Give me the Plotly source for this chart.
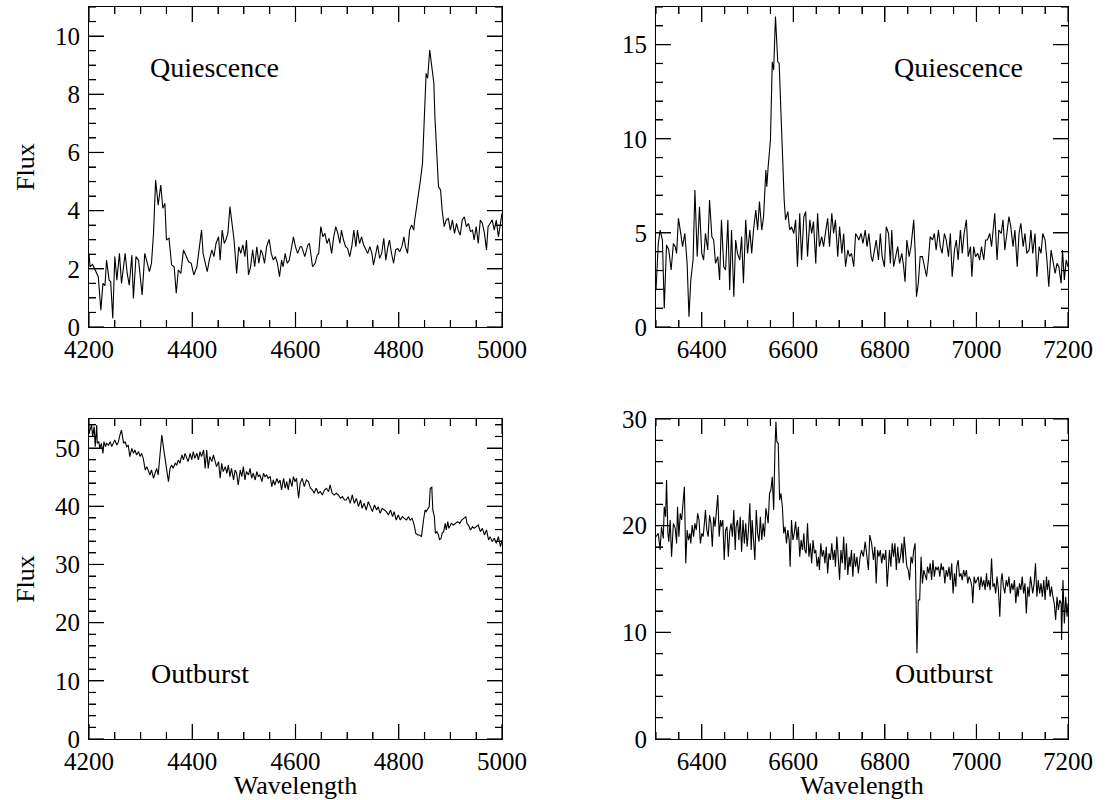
import plotly.graph_objects as go

# ---------------- data ----------------
tl_wave = [4200, 4202, 4207, 4211, 4218, 4223, 4227, 4231, 4234, 4239,
           4242, 4246, 4250, 4254, 4259, 4263, 4267, 4270, 4274, 4278,
           4283, 4286, 4291, 4296, 4303, 4308, 4313, 4317, 4321, 4325,
           4329, 4334, 4339, 4343, 4347, 4350, 4355, 4360, 4365, 4369,
           4373, 4378, 4383, 4388, 4393, 4398, 4403, 4409, 4414, 4418,
           4421, 4425, 4429, 4433, 4438, 4442, 4446, 4451, 4454, 4458,
           4462, 4465, 4469, 4473, 4477, 4481, 4486, 4490, 4494, 4498,
           4502, 4505, 4509, 4513, 4517, 4521, 4525, 4529, 4533, 4536,
           4540, 4544, 4549, 4553, 4557, 4561, 4565, 4569, 4573, 4576,
           4580, 4584, 4588, 4592, 4596, 4600, 4604, 4609, 4612, 4618,
           4624, 4627, 4633, 4638, 4642, 4645, 4649, 4653, 4657, 4661,
           4665, 4670, 4674, 4678, 4682, 4686, 4689, 4693, 4697, 4701,
           4705, 4709, 4713, 4717, 4720, 4724, 4728, 4732, 4736, 4740,
           4744, 4748, 4751, 4755, 4759, 4763, 4767, 4771, 4775, 4779,
           4782, 4786, 4790, 4794, 4798, 4802, 4806, 4810, 4813, 4817,
           4821, 4825, 4829, 4831, 4835, 4839, 4842, 4846, 4848, 4851,
           4853, 4856, 4860, 4864, 4868, 4870, 4874, 4877, 4881, 4884,
           4888, 4892, 4896, 4900, 4904, 4908, 4912, 4915, 4919, 4923,
           4927, 4931, 4935, 4939, 4943, 4946, 4950, 4954, 4958, 4962,
           4966, 4970, 4973, 4977, 4981, 4985, 4989, 4993, 4997, 5000]
tl_flux = [2.53, 2.07, 2.15, 2.00, 1.73, 0.58, 1.50, 1.42, 2.30, 1.61,
           1.56, 0.30, 2.42, 1.61, 2.53, 1.50, 2.07, 2.53, 1.84, 1.44,
           2.47, 0.98, 2.42, 2.30, 1.10, 2.53, 2.19, 1.90, 2.19, 3.22,
           5.05, 4.19, 4.88, 4.08, 4.25, 2.99, 3.05, 2.13, 2.07, 1.16,
           1.96, 1.84, 2.65, 2.42, 2.24, 2.19, 1.79, 2.07, 2.76, 3.33,
           2.53, 2.19, 1.90, 2.30, 2.65, 2.42, 2.87, 3.10, 2.30, 3.33,
           2.87, 2.99, 3.22, 4.14, 3.45, 2.99, 1.84, 2.76, 2.53, 2.82,
           2.42, 2.99, 1.79, 2.07, 2.65, 2.07, 2.76, 2.19, 2.65, 2.53,
           2.19, 2.76, 3.01, 2.53, 2.30, 2.42, 2.19, 1.73, 2.30, 2.07,
           2.53, 2.19, 2.30, 2.76, 3.10, 2.76, 2.53, 2.76, 2.76, 2.42,
           2.82, 2.87, 2.07, 2.19, 2.47, 2.53, 3.45, 3.10, 3.22, 2.87,
           3.05, 2.53, 3.10, 3.45, 3.22, 2.87, 3.33, 2.99, 2.76, 2.70,
           2.42, 2.76, 3.33, 2.76, 3.33, 2.87, 3.10, 2.82, 2.70, 2.53,
           2.76, 2.53, 2.13, 2.53, 2.82, 2.36, 2.53, 3.05, 2.30, 2.76,
           2.99, 2.53, 2.19, 2.65, 2.70, 2.59, 2.76, 3.10, 2.76, 2.53,
           3.33, 3.51, 3.33, 3.68, 4.14, 4.59, 5.05, 5.63, 6.66, 7.80,
           8.72, 8.55, 9.52, 8.95, 8.38, 7.23, 5.97, 4.82, 4.71, 4.02,
           3.45, 3.68, 3.73, 3.33, 3.68, 3.22, 3.56, 3.33, 3.16, 3.68,
           3.79, 3.45, 3.56, 3.28, 3.33, 2.99, 3.45, 2.87, 3.68, 3.56,
           3.22, 2.65, 3.45, 3.56, 3.68, 3.33, 3.68, 3.10, 3.68, 3.91]

tr_wave = [6300, 6305, 6309, 6314, 6318, 6323, 6328, 6333, 6338, 6342,
           6345, 6349, 6354, 6358, 6363, 6368, 6372, 6376, 6381, 6385,
           6390, 6395, 6400, 6404, 6408, 6413, 6417, 6422, 6426, 6430,
           6435, 6439, 6443, 6448, 6452, 6457, 6461, 6465, 6470, 6474,
           6478, 6483, 6487, 6491, 6496, 6500, 6505, 6509, 6513, 6518,
           6522, 6526, 6531, 6535, 6540, 6542, 6545, 6550, 6554, 6557,
           6561, 6566, 6569, 6572, 6574, 6577, 6580, 6583, 6588, 6592,
           6596, 6601, 6605, 6609, 6614, 6618, 6623, 6627, 6631, 6636,
           6640, 6644, 6649, 6653, 6657, 6662, 6666, 6671, 6675, 6679,
           6684, 6688, 6692, 6697, 6701, 6706, 6710, 6714, 6719, 6723,
           6727, 6732, 6736, 6740, 6743, 6748, 6752, 6757, 6761, 6765,
           6770, 6773, 6777, 6781, 6786, 6790, 6794, 6799, 6803, 6808,
           6812, 6815, 6819, 6824, 6828, 6832, 6837, 6841, 6844, 6848,
           6853, 6857, 6863, 6866, 6869, 6873, 6877, 6882, 6886, 6891,
           6895, 6899, 6904, 6908, 6912, 6917, 6921, 6925, 6930, 6934,
           6939, 6943, 6947, 6952, 6956, 6960, 6965, 6969, 6973, 6978,
           6982, 6987, 6990, 6994, 6998, 7003, 7007, 7011, 7016, 7020,
           7024, 7029, 7033, 7038, 7040, 7045, 7049, 7054, 7058, 7062,
           7067, 7071, 7075, 7080, 7084, 7089, 7093, 7097, 7102, 7106,
           7110, 7115, 7119, 7123, 7128, 7132, 7137, 7141, 7145, 7150,
           7154, 7158, 7163, 7167, 7172, 7176, 7180, 7185, 7188, 7192,
           7196, 7200]
tr_flux = [1.96, 4.44, 5.15, 4.62, 0.99, 4.36, 4.09, 3.03, 4.44, 4.27,
           3.91, 5.77, 4.97, 4.27, 4.97, 3.38, 0.55, 2.50, 3.56, 7.28,
           3.74, 6.39, 3.91, 3.56, 4.97, 4.09, 6.75, 4.80, 4.62, 3.38,
           3.74, 2.50, 5.69, 3.20, 3.03, 5.69, 1.96, 5.15, 1.61, 4.62,
           3.91, 3.56, 4.80, 2.32, 5.69, 3.91, 5.15, 3.91, 5.15, 6.21,
           5.15, 6.66, 5.15, 5.86, 8.34, 7.45, 8.52, 9.93, 14.09, 13.65,
           16.49, 14.09, 14.01, 12.06, 10.11, 8.52, 6.75, 5.69, 6.13, 5.15,
           5.33, 4.97, 5.69, 3.20, 6.04, 3.56, 5.86, 6.13, 3.74, 5.69,
           4.97, 5.60, 3.38, 6.04, 4.27, 4.80, 4.27, 5.15, 5.77, 4.27,
           6.04, 4.97, 5.69, 3.74, 5.33, 3.91, 4.97, 3.20, 4.09, 3.74,
           3.91, 3.20, 4.97, 4.80, 4.62, 4.97, 4.44, 5.15, 4.27, 4.97,
           3.74, 3.47, 4.09, 4.62, 3.56, 4.97, 3.74, 3.20, 5.33, 4.97,
           3.38, 5.15, 3.20, 3.91, 4.27, 3.38, 3.91, 3.20, 2.41, 4.62,
           3.74, 4.27, 5.69, 4.09, 1.61, 2.32, 3.74, 3.74, 3.20, 2.67,
           3.56, 4.80, 4.62, 4.97, 4.09, 5.15, 4.27, 3.91, 4.97, 4.62,
           3.74, 4.97, 2.67, 4.09, 4.62, 3.56, 5.15, 3.91, 4.97, 5.69,
           3.74, 4.27, 2.67, 4.27, 3.74, 3.91, 3.56, 4.27, 3.56, 4.62,
           4.62, 4.97, 4.27, 5.33, 6.04, 3.56, 5.15, 4.97, 5.69, 4.09,
           4.97, 5.86, 5.33, 4.27, 5.15, 3.20, 4.97, 5.51, 4.27, 4.97,
           3.91, 4.09, 5.15, 3.91, 4.97, 2.67, 4.27, 3.91, 4.97, 4.62,
           3.56, 2.14, 4.09, 3.56, 2.85, 3.38, 3.20, 2.32, 4.09, 2.50,
           3.56, 3.20]

bl_wave = [4200, 4205, 4207, 4210, 4212, 4215, 4216, 4219, 4221, 4224,
           4227, 4229, 4232, 4234, 4238, 4241, 4244, 4247, 4250, 4254,
           4257, 4260, 4263, 4267, 4270, 4273, 4276, 4279, 4283, 4286,
           4289, 4292, 4296, 4299, 4302, 4305, 4309, 4312, 4315, 4318,
           4321, 4325, 4328, 4331, 4334, 4338, 4341, 4344, 4347, 4351,
           4354, 4357, 4360, 4363, 4367, 4370, 4373, 4376, 4380, 4383,
           4386, 4389, 4392, 4396, 4399, 4402, 4405, 4409, 4412, 4415,
           4418, 4422, 4425, 4428, 4431, 4434, 4438, 4441, 4444, 4447,
           4451, 4454, 4457, 4460, 4464, 4467, 4470, 4473, 4476, 4480,
           4483, 4486, 4489, 4493, 4496, 4499, 4502, 4505, 4509, 4512,
           4515, 4518, 4522, 4525, 4528, 4531, 4535, 4538, 4541, 4544,
           4547, 4551, 4554, 4557, 4560, 4564, 4567, 4570, 4573, 4577,
           4580, 4583, 4586, 4589, 4593, 4596, 4599, 4602, 4606, 4609,
           4613, 4617, 4621, 4625, 4629, 4633, 4636, 4640, 4644, 4648,
           4652, 4656, 4660, 4664, 4667, 4671, 4675, 4679, 4683, 4687,
           4691, 4695, 4698, 4702, 4706, 4710, 4714, 4718, 4722, 4726,
           4729, 4733, 4737, 4741, 4745, 4749, 4753, 4757, 4760, 4764,
           4768, 4772, 4776, 4780, 4784, 4788, 4791, 4795, 4799, 4803,
           4807, 4811, 4815, 4819, 4822, 4826, 4830, 4833, 4837, 4840,
           4844, 4848, 4851, 4853, 4856, 4859, 4861, 4864, 4866, 4869,
           4871, 4874, 4877, 4879, 4882, 4884, 4887, 4890, 4892, 4895,
           4897, 4900, 4902, 4906, 4910, 4914, 4918, 4922, 4926, 4930,
           4932, 4935, 4939, 4943, 4946, 4950, 4954, 4958, 4962, 4966,
           4970, 4974, 4977, 4981, 4985, 4989, 4993, 4997, 5000]
bl_flux = [52.54, 53.97, 51.97, 53.69, 50.25, 53.97, 50.82, 51.11, 49.96, 50.82,
           49.10, 51.11, 50.25, 50.82, 50.53, 51.11, 50.25, 50.82, 51.39, 50.53,
           51.11, 52.25, 53.11, 50.82, 51.11, 50.25, 50.53, 48.53, 49.96, 49.10,
           49.67, 48.82, 49.39, 48.53, 49.10, 48.24, 46.24, 46.81, 45.95, 45.38,
           46.24, 44.81, 45.67, 46.52, 45.38, 49.10, 52.25, 50.25, 47.96, 45.95,
           44.23, 46.52, 47.10, 46.52, 47.38, 47.10, 47.96, 47.38, 48.82, 47.96,
           49.10, 48.53, 47.67, 49.10, 47.96, 49.39, 48.24, 49.10, 47.96, 49.39,
           48.53, 49.67, 46.52, 49.67, 46.52, 48.53, 47.67, 48.82, 47.96, 46.81,
           47.67, 44.81, 47.38, 45.95, 46.81, 45.67, 47.10, 45.09, 46.52, 44.52,
           46.24, 45.67, 43.66, 46.24, 45.09, 46.81, 44.52, 45.95, 45.38, 46.52,
           44.81, 45.67, 44.52, 45.95, 45.09, 45.38, 44.23, 45.67, 45.09, 45.38,
           44.81, 45.09, 43.37, 44.52, 43.66, 44.81, 43.95, 44.52, 42.80, 44.81,
           43.09, 44.23, 42.80, 44.81, 43.37, 45.09, 44.23, 44.81, 41.37, 43.95,
           44.81, 43.37, 44.52, 44.23, 43.09, 42.80, 42.23, 43.09, 42.23, 42.51,
           41.94, 42.80, 43.09, 42.51, 43.66, 42.23, 41.94, 42.23, 41.94, 41.37,
           41.65, 41.08, 41.08, 41.65, 40.51, 41.94, 40.51, 41.37, 39.94, 41.08,
           39.65, 40.51, 39.36, 40.79, 39.94, 39.08, 40.22, 39.36, 39.94, 38.79,
           39.65, 39.36, 39.08, 38.50, 39.36, 38.22, 39.08, 37.64, 38.50, 37.64,
           38.22, 37.93, 37.64, 38.22, 37.64, 37.93, 36.78, 35.35, 35.07, 35.07,
           34.78, 37.64, 39.36, 39.08, 39.65, 39.94, 43.09, 43.26, 39.36, 38.22,
           35.35, 35.64, 35.07, 34.21, 34.49, 35.35, 35.64, 37.07, 35.93, 37.36,
           36.21, 36.78, 37.07, 36.78, 37.07, 37.36, 37.07, 37.64, 37.93, 38.22,
           37.07, 36.78, 35.93, 36.50, 36.21, 36.50, 36.78, 35.64, 36.21, 35.07,
           35.93, 34.21, 34.78, 33.92, 34.49, 33.63, 34.78, 33.06, 34.21]

br_wave = [6300, 6305, 6309, 6312, 6316, 6318, 6321, 6323, 6326, 6328,
           6331, 6334, 6338, 6342, 6345, 6347, 6350, 6353, 6356, 6359,
           6362, 6365, 6368, 6371, 6374, 6376, 6379, 6382, 6385, 6388,
           6391, 6394, 6397, 6400, 6403, 6406, 6408, 6411, 6414, 6417,
           6420, 6423, 6426, 6429, 6432, 6435, 6438, 6441, 6443, 6446,
           6449, 6452, 6455, 6458, 6461, 6464, 6467, 6470, 6473, 6475,
           6478, 6481, 6484, 6487, 6490, 6493, 6496, 6499, 6502, 6505,
           6508, 6510, 6513, 6516, 6519, 6522, 6525, 6528, 6531, 6534,
           6537, 6540, 6542, 6545, 6548, 6551, 6554, 6557, 6560, 6562,
           6564, 6567, 6570, 6573, 6576, 6579, 6582, 6585, 6588, 6591,
           6593, 6596, 6599, 6602, 6605, 6608, 6611, 6614, 6617, 6620,
           6623, 6625, 6628, 6631, 6634, 6637, 6640, 6643, 6646, 6649,
           6652, 6655, 6657, 6660, 6663, 6666, 6669, 6672, 6675, 6678,
           6681, 6684, 6687, 6690, 6692, 6695, 6698, 6701, 6704, 6707,
           6710, 6713, 6716, 6719, 6722, 6724, 6727, 6730, 6733, 6736,
           6739, 6742, 6746, 6749, 6753, 6757, 6760, 6764, 6767, 6771,
           6775, 6778, 6781, 6784, 6787, 6790, 6793, 6796, 6799, 6802,
           6805, 6808, 6810, 6813, 6816, 6819, 6822, 6825, 6828, 6831,
           6834, 6837, 6840, 6842, 6845, 6848, 6851, 6854, 6857, 6860,
           6863, 6866, 6868, 6870, 6873, 6876, 6879, 6882, 6885, 6888,
           6891, 6893, 6896, 6899, 6902, 6905, 6908, 6911, 6914, 6917,
           6920, 6923, 6925, 6928, 6931, 6934, 6937, 6940, 6943, 6946,
           6949, 6952, 6955, 6957, 6960, 6963, 6966, 6969, 6972, 6975,
           6978, 6981, 6984, 6987, 6990, 6992, 6995, 6998, 7001, 7004,
           7007, 7010, 7013, 7016, 7019, 7022, 7024, 7027, 7030, 7033,
           7036, 7039, 7042, 7045, 7048, 7051, 7054, 7056, 7059, 7062,
           7065, 7068, 7071, 7074, 7077, 7080, 7083, 7086, 7089, 7091,
           7094, 7097, 7100, 7103, 7106, 7109, 7112, 7115, 7118, 7121,
           7123, 7126, 7129, 7132, 7135, 7138, 7141, 7144, 7147, 7150,
           7153, 7155, 7158, 7161, 7164, 7167, 7170, 7173, 7176, 7179,
           7182, 7185, 7186, 7189, 7192, 7195, 7198, 7200]
br_flux = [18.97, 19.28, 17.72, 19.90, 18.81, 21.78, 20.84, 24.28, 19.28, 18.50,
           20.53, 17.09, 20.22, 19.75, 18.34, 21.78, 18.97, 21.15, 20.53, 21.78,
           23.65, 16.47, 19.59, 18.65, 19.28, 18.34, 20.06, 18.97, 20.22, 19.59,
           21.15, 20.53, 18.34, 19.28, 18.97, 20.37, 21.47, 19.59, 18.97, 21.00,
           20.22, 18.03, 20.84, 19.90, 21.78, 22.87, 18.97, 20.53, 19.90, 20.53,
           16.78, 19.59, 19.90, 17.09, 19.43, 20.22, 18.97, 21.47, 17.72, 19.90,
           20.53, 18.65, 20.84, 17.56, 20.53, 18.34, 20.22, 18.03, 19.59, 22.09,
           17.72, 20.53, 18.65, 16.78, 21.47, 19.28, 18.50, 20.84, 18.65, 20.22,
           18.97, 21.62, 21.15, 20.22, 23.03, 23.34, 24.59, 21.47, 27.40, 29.75,
           27.87, 27.72, 22.40, 23.03, 21.78, 19.28, 19.90, 18.34, 19.59, 18.65,
           16.15, 20.53, 18.65, 19.28, 20.37, 18.65, 19.90, 17.09, 18.65, 17.72,
           19.28, 17.72, 17.40, 20.22, 17.09, 18.34, 16.47, 18.65, 17.40, 17.72,
           16.15, 17.09, 15.84, 18.34, 17.09, 17.72, 16.47, 18.03, 15.53, 17.40,
           16.78, 18.34, 16.78, 17.72, 16.15, 18.97, 17.09, 14.90, 17.72, 16.47,
           18.97, 15.84, 18.34, 15.37, 17.09, 16.15, 17.72, 15.22, 17.40, 16.15,
           17.09, 15.53, 17.09, 17.72, 17.09, 18.50, 17.40, 15.84, 19.12, 18.34,
           16.78, 18.03, 14.59, 17.72, 17.09, 17.72, 16.47, 17.40, 16.78, 17.72,
           14.28, 17.09, 17.72, 16.15, 18.34, 17.09, 18.34, 15.84, 18.03, 16.47,
           17.09, 18.34, 16.47, 18.97, 17.40, 16.15, 15.84, 14.90, 17.09, 16.47,
           17.72, 18.34, 13.34, 8.03, 13.03, 13.03, 17.09, 14.59, 15.84, 15.22,
           14.90, 16.15, 15.53, 16.47, 14.90, 16.78, 15.22, 16.15, 15.84, 16.15,
           15.22, 16.47, 15.84, 16.15, 14.59, 15.84, 15.22, 16.15, 14.90, 16.47,
           13.65, 15.53, 14.28, 16.15, 16.78, 15.22, 15.53, 14.90, 15.84, 15.22,
           15.84, 14.59, 15.22, 14.90, 14.28, 12.72, 15.22, 14.59, 14.90, 15.22,
           13.97, 15.22, 14.28, 14.90, 13.97, 15.53, 14.28, 14.90, 13.97, 16.93,
           14.28, 14.59, 13.65, 15.22, 13.97, 11.47, 14.90, 15.53, 14.28, 13.65,
           14.90, 14.28, 15.22, 13.65, 14.59, 13.97, 14.90, 12.72, 14.28, 13.34,
           14.59, 13.97, 15.22, 13.65, 14.59, 11.78, 14.28, 13.34, 15.22, 13.97,
           13.65, 14.59, 16.47, 13.34, 14.90, 13.65, 14.59, 13.34, 14.90, 13.03,
           15.22, 13.97, 14.90, 13.34, 14.28, 13.34, 12.72, 11.15, 13.34, 12.09,
           13.03, 12.72, 9.28, 14.90, 10.84, 13.34, 11.47, 12.72]

panel_labels = ["Quiescence", "Quiescence", "Outburst", "Outburst"]
x_title = "Wavelength"
y_title = "Flux"

# axis specs per panel: (x range, x major, x minor, y range, y major, y minor)
panel_axes = [
    ([4200, 5000], 200, 50, [0, 11], 2, 0.5),
    ([6300, 7200], 200, 50, [0, 17], 5, 1),
    ([4200, 5000], 200, 50, [0, 55], 10, 2),
    ([6300, 7200], 200, 50, [0, 30], 10, 2),
]

# ---------------- figure ----------------
FONT = "Liberation Serif"
TICKFONT = dict(family=FONT, size=25, color="black")
MAJOR_LEN, MINOR_LEN = 15, 7
TICK_LINE = dict(color="black", width=1.2)

dom_x_left = [89 / 1106, 502 / 1106]
dom_x_right = [656 / 1106, 1068 / 1106]
dom_y_top = [1 - 327 / 800, 1 - 7 / 800]
dom_y_bot = [1 - 739 / 800, 1 - 419 / 800]


def xaxis(domain, anchor, rng, dtick, mdtick, title=None):
    d = dict(domain=domain, anchor=anchor, range=rng, dtick=dtick,
             ticks="inside", ticklen=MAJOR_LEN, tickwidth=1.2, tickcolor="black",
             mirror="allticks", showline=True, linecolor="black", linewidth=1,
             showgrid=False, zeroline=False, tickfont=TICKFONT,
             minor=dict(dtick=mdtick, ticks="inside", ticklen=MINOR_LEN,
                        tickwidth=1.2, tickcolor="black", showgrid=False))
    if title:
        d["title"] = dict(text=title, font=dict(family=FONT, size=26, color="black"),
                          standoff=14)
    return d


def yaxis(domain, anchor, rng, dtick, mdtick, title=None):
    d = dict(domain=domain, anchor=anchor, range=rng, dtick=dtick,
             ticks="inside", ticklen=MAJOR_LEN, tickwidth=1.2, tickcolor="black",
             mirror="allticks", showline=True, linecolor="black", linewidth=1,
             showgrid=False, zeroline=False, tickfont=TICKFONT,
             ticklabelstandoff=3,
             minor=dict(dtick=mdtick, ticks="inside", ticklen=MINOR_LEN,
                        tickwidth=1.2, tickcolor="black", showgrid=False))
    if title:
        d["title"] = dict(text=title, font=dict(family=FONT, size=26, color="black"),
                          standoff=12)
    return d


def tick_values(lo, hi, step):
    n = int(round((hi - lo) / step))
    return [lo + i * step for i in range(n + 1)]


def is_major(v, major):
    q = v / major
    return abs(q - round(q)) < 1e-9


def frame_ticks(xid, yid, spec):
    """Inside tick marks on all four sides, placed on the axes' own scales."""
    xr, xmaj, xmin_, yr, ymaj, ymin_ = spec
    shapes = []
    for v in tick_values(xr[0], xr[1], xmin_):
        L = MAJOR_LEN if is_major(v, xmaj) else MINOR_LEN
        for anchor, sign in ((0, 1), (1, -1)):
            shapes.append(dict(type="line", xref=xid, yref=yid + " domain",
                               x0=v, x1=v, ysizemode="pixel", yanchor=anchor,
                               y0=0, y1=sign * L, line=TICK_LINE, layer="above"))
    for v in tick_values(yr[0], yr[1], ymin_):
        L = MAJOR_LEN if is_major(v, ymaj) else MINOR_LEN
        for anchor, sign in ((0, 1), (1, -1)):
            shapes.append(dict(type="line", xref=xid + " domain", yref=yid,
                               y0=v, y1=v, xsizemode="pixel", xanchor=anchor,
                               x0=0, x1=sign * L, line=TICK_LINE, layer="above"))
    return shapes


fig = go.Figure()
line = dict(color="black", width=1.1)
series = [(tl_wave, tl_flux), (tr_wave, tr_flux), (bl_wave, bl_flux), (br_wave, br_flux)]
ids = [("x", "y"), ("x2", "y2"), ("x3", "y3"), ("x4", "y4")]
for (wv, fl), (xi, yi) in zip(series, ids):
    fig.add_trace(go.Scatter(x=wv, y=fl, mode="lines", line=line,
                             xaxis=xi, yaxis=yi, showlegend=False))

s0, s1, s2, s3 = panel_axes
fig.update_layout(
    template="none",
    width=1106, height=800,
    margin=dict(l=0, r=0, t=0, b=0),
    showlegend=False,
    xaxis=xaxis(dom_x_left, "y", s0[0], s0[1], s0[2]),
    yaxis=yaxis(dom_y_top, "x", s0[3], s0[4], s0[5], y_title),
    xaxis2=xaxis(dom_x_right, "y2", s1[0], s1[1], s1[2]),
    yaxis2=yaxis(dom_y_top, "x2", s1[3], s1[4], s1[5]),
    xaxis3=xaxis(dom_x_left, "y3", s2[0], s2[1], s2[2], x_title),
    yaxis3=yaxis(dom_y_bot, "x3", s2[3], s2[4], s2[5], y_title),
    xaxis4=xaxis(dom_x_right, "y4", s3[0], s3[1], s3[2], x_title),
    yaxis4=yaxis(dom_y_bot, "x4", s3[3], s3[4], s3[5]),
)

shapes = []
for (xi, yi), spec in zip(ids, panel_axes):
    shapes += frame_ticks(xi, yi, spec)
fig.update_layout(shapes=shapes)

ann_pos = [(0.305, 0.8125), (0.735, 0.8125), (0.269, 0.206), (0.699, 0.206)]
for text, (xi, yi), (ax, ay) in zip(panel_labels, ids, ann_pos):
    fig.add_annotation(text=text, xref=xi + " domain", yref=yi + " domain",
                       x=ax, y=ay, showarrow=False, xanchor="center", yanchor="middle",
                       font=dict(family=FONT, size=28, color="black"))

fig.write_html("out.html")
